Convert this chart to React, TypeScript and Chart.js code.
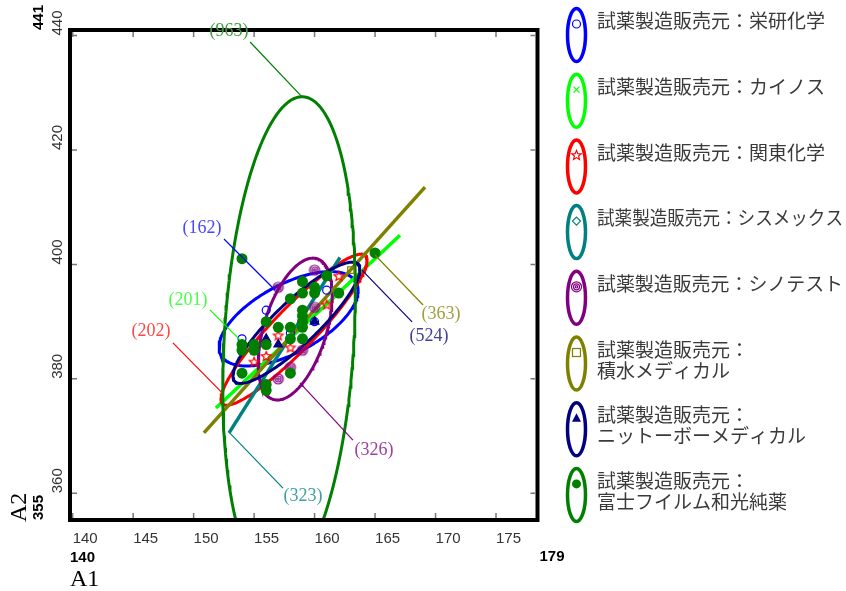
import React, { useEffect, useRef } from "react";
import { Chart, registerables } from "chart.js";
Chart.register(...registerables);

// ---- axis ranges & ticks ----
const X_MIN = 139.78;
const X_MAX = 178.43;
const Y_MIN = 355.33;
const Y_MAX = 440.97;
const xTicks = [140, 145, 150, 155, 160, 165, 170, 175];
const yTicks = [360, 380, 400, 420, 440];
const xRangeLabels = ["140", "179"];
const yRangeLabels = ["355", "441"];
const xTitle = "A1";
const yTitle = "A2";

// ---- series ----
const seriesNames = [
  ["試薬製造販売元：栄研化学"],
  ["試薬製造販売元：カイノス"],
  ["試薬製造販売元：関東化学"],
  ["試薬製造販売元：シスメックス"],
  ["試薬製造販売元：シノテスト"],
  ["試薬製造販売元：", "積水メディカル"],
  ["試薬製造販売元：", "ニットーボーメディカル"],
  ["試薬製造販売元：", "富士フイルム和光純薬"],
];
const seriesColors = ["#0000ff", "#00ff00", "#ff0000", "#008080", "#800080", "#808000", "#000080", "#008000"];
const labelColors = ["#4848ff", "#48ff48", "#ff4848", "#40a0a0", "#a040a0", "#a0a040", "#404099", "#40a040"];
const countLabels = ["(162)", "(201)", "(202)", "(323)", "(326)", "(363)", "(524)", "(963)"];

// scatter points per vendor
const eikenX = [154, 156, 161, 158, 160];
const eikenY = [387, 392, 395.5, 388, 390];
const kainosX = [156, 158, 159];
const kainosY = [386, 387, 389];
const kantoX = [162, 157, 156, 158, 155, 161];
const kantoY = [398, 387.6, 384, 385.5, 383, 393];
const sysmexX = [159, 157, 160];
const sysmexY = [391, 389, 395];
const shinoX = [160, 157, 160, 159, 158, 157];
const shinoY = [399, 396, 392.5, 385, 382, 380];
const sekisuiX = [163, 159];
const sekisuiY = [399, 390];
const nittoboX = [156, 157, 160];
const nittoboY = [387, 386, 390];
const wakoX = [154, 165, 159, 161, 160, 159, 160, 158, 162, 156, 159, 159, 159, 159, 157, 158, 158, 159, 156, 154, 154, 155, 155, 154, 158, 156, 156];
const wakoY = [401, 402, 397, 398, 396, 395, 395, 394, 395, 390, 392, 391, 390, 389, 389, 389, 387, 387, 386, 386, 385, 386, 385, 381, 381, 379, 378];

// ellipses: [meanX, meanY, halfExtentX, halfExtentY, correlation]
const eikenEllipse = [157.85, 390.5, 5.75, 8.25, 0.6];
const kantoEllipse = [158.3, 388.6, 6.04, 13.2, 0.92];
const shinoEllipse = [158.4, 388.7, 3.06, 12.4, 0.48];
const nittoboEllipse = [158.5, 389.8, 5.25, 10.6, 0.88];
const wakoEllipse = [157.89, 386.8, 5.48, 42.5, 0.196];
// degenerate ellipses (lines)
const kainosLineX = [151.85, 167.06];
const kainosLineY = [374.9, 405.1];
const sysmexLineX = [152.93, 162.1];
const sysmexLineY = [370.56, 401.2];
const sekisuiLineX = [150.85, 169.13];
const sekisuiLineY = [370.56, 413.5];

// count label annotations (data units)
const labelTextX = [150.69, 149.53, 146.47, 159.04, 164.91, 170.45, 169.46, 152.92];
const labelTextY = [406.36, 393.81, 388.4, 359.5, 367.6, 391.2, 387.5, 440.79];
const leaderFromX = [152.51, 151.35, 148.29, 157.39, 163.17, 168.97, 168.06, 154.67];
const leaderFromY = [404.44, 392.06, 386.3, 360.9, 369.3, 392.9, 389.95, 438.87];
const leaderToX = [156.73, 153.83, 152.34, 152.92, 158.79, 165.0, 163.92, 158.96];
const leaderToY = [395.52, 386.8, 377.6, 370.7, 379.3, 401.65, 399.0, 429.27];

function zip(xs: number[], ys: number[]) {
  return xs.map((x, i) => ({ x, y: ys[i] }));
}

function ellipsePts(e: number[]) {
  const [mx, my, hx, hy, r] = e;
  const th = Math.acos(r);
  const pts: { x: number; y: number }[] = [];
  const n = 240;
  for (let i = 0; i <= n; i++) {
    const t = (i / n) * Math.PI * 2;
    pts.push({ x: mx + hx * Math.cos(t), y: my + hy * Math.cos(t - th) });
  }
  return pts;
}

function drawStar(ctx: CanvasRenderingContext2D, x: number, y: number, R: number, r: number, color: string) {
  ctx.beginPath();
  for (let i = 0; i < 10; i++) {
    const a = -Math.PI / 2 + (i * Math.PI) / 5;
    const rad = i % 2 === 0 ? R : r;
    const px = x + rad * Math.cos(a);
    const py = y + rad * Math.sin(a);
    if (i === 0) ctx.moveTo(px, py);
    else ctx.lineTo(px, py);
  }
  ctx.closePath();
  ctx.strokeStyle = color;
  ctx.lineWidth = 1.2;
  ctx.stroke();
}

function drawBullseye(ctx: CanvasRenderingContext2D, x: number, y: number, color: string) {
  ctx.strokeStyle = color;
  ctx.lineWidth = 1.2;
  [5, 3, 1.2].forEach((rr) => {
    ctx.beginPath();
    ctx.arc(x, y, rr, 0, Math.PI * 2);
    ctx.stroke();
  });
}

function makeCanvas(draw: (c: CanvasRenderingContext2D) => void) {
  const c = document.createElement("canvas");
  c.width = 14;
  c.height = 14;
  const ctx = c.getContext("2d")!;
  draw(ctx);
  return c;
}

function drawMarker(ctx: CanvasRenderingContext2D, kind: number, x: number, y: number) {
  const col = seriesColors[kind];
  ctx.save();
  ctx.strokeStyle = col;
  ctx.fillStyle = col;
  ctx.lineWidth = 1.2;
  if (kind === 0) {
    ctx.beginPath();
    ctx.arc(x, y, 4, 0, Math.PI * 2);
    ctx.stroke();
  } else if (kind === 1) {
    ctx.beginPath();
    ctx.moveTo(x - 3, y - 3);
    ctx.lineTo(x + 3, y + 3);
    ctx.moveTo(x + 3, y - 3);
    ctx.lineTo(x - 3, y + 3);
    ctx.stroke();
  } else if (kind === 2) {
    drawStar(ctx, x, y, 5, 2.2, col);
  } else if (kind === 3) {
    ctx.beginPath();
    ctx.moveTo(x, y - 4);
    ctx.lineTo(x + 4, y);
    ctx.lineTo(x, y + 4);
    ctx.lineTo(x - 4, y);
    ctx.closePath();
    ctx.stroke();
  } else if (kind === 4) {
    drawBullseye(ctx, x, y, col);
  } else if (kind === 5) {
    ctx.strokeRect(x - 4, y - 4, 8, 8);
  } else if (kind === 6) {
    ctx.beginPath();
    ctx.moveTo(x, y - 5);
    ctx.lineTo(x + 4.5, y + 3.5);
    ctx.lineTo(x - 4.5, y + 3.5);
    ctx.closePath();
    ctx.fill();
  } else {
    ctx.beginPath();
    ctx.arc(x, y, 4.5, 0, Math.PI * 2);
    ctx.fill();
  }
  ctx.restore();
}

const overlayPlugin = {
  id: "overlay",
  afterDraw(chart: any) {
    const { ctx, chartArea: a } = chart;
    const xs = chart.scales.x;
    const ys = chart.scales.y;
    ctx.save();

    // frame
    ctx.strokeStyle = "#000";
    ctx.lineWidth = 4;
    ctx.strokeRect(a.left, a.top, a.right - a.left, a.bottom - a.top);

    // ticks (inside)
    ctx.strokeStyle = "#777";
    ctx.lineWidth = 1.5;
    xTicks.forEach((t) => {
      const px = xs.getPixelForValue(t);
      ctx.beginPath();
      ctx.moveTo(px, a.bottom - 2);
      ctx.lineTo(px, a.bottom - 7);
      ctx.moveTo(px, a.top + 2);
      ctx.lineTo(px, a.top + 7);
      ctx.stroke();
    });
    yTicks.forEach((t) => {
      const py = ys.getPixelForValue(t);
      ctx.beginPath();
      ctx.moveTo(a.left + 2, py);
      ctx.lineTo(a.left + 7, py);
      ctx.moveTo(a.right - 2, py);
      ctx.lineTo(a.right - 7, py);
      ctx.stroke();
    });

    // tick labels
    ctx.fillStyle = "#333";
    ctx.font = '15px "Liberation Sans", Arial, sans-serif';
    ctx.textAlign = "left";
    ctx.textBaseline = "middle";
    xTicks.forEach((t) => {
      ctx.fillText(String(t), xs.getPixelForValue(t), a.bottom + 19);
    });
    yTicks.forEach((t) => {
      const py = ys.getPixelForValue(t);
      ctx.save();
      ctx.translate(a.left - 12, py);
      ctx.rotate(-Math.PI / 2);
      ctx.fillText(String(t), 0, 0);
      ctx.restore();
    });

    // range labels (bold)
    ctx.fillStyle = "#000";
    ctx.font = 'bold 15px "Liberation Sans", Arial, sans-serif';
    ctx.fillText(xRangeLabels[0], a.left, a.bottom + 38);
    ctx.fillText(xRangeLabels[1], a.right + 2, a.bottom + 37);
    [a.bottom, a.top].forEach((py, i) => {
      ctx.save();
      ctx.translate(a.left - 31, py);
      ctx.rotate(-Math.PI / 2);
      ctx.fillText(yRangeLabels[i], 0, 0);
      ctx.restore();
    });

    // axis titles
    ctx.font = '24px "Liberation Serif", "Times New Roman", serif';
    ctx.fillText(xTitle, a.left, a.bottom + 60);
    ctx.save();
    ctx.translate(a.left - 50, a.bottom + 2);
    ctx.rotate(-Math.PI / 2);
    ctx.fillText(yTitle, 0, 0);
    ctx.restore();

    // count labels with leader lines
    ctx.font = '18px "Liberation Serif", "Times New Roman", serif';
    ctx.textAlign = "center";
    countLabels.forEach((txt, i) => {
      ctx.strokeStyle = seriesColors[i];
      ctx.lineWidth = 1.2;
      ctx.beginPath();
      ctx.moveTo(xs.getPixelForValue(leaderFromX[i]), ys.getPixelForValue(leaderFromY[i]));
      ctx.lineTo(xs.getPixelForValue(leaderToX[i]), ys.getPixelForValue(leaderToY[i]));
      ctx.stroke();
      ctx.fillStyle = labelColors[i];
      ctx.fillText(txt, xs.getPixelForValue(labelTextX[i]), ys.getPixelForValue(labelTextY[i]));
    });

    // legend
    const lx = 576.5;
    const ly0 = 35;
    const step = 65.7;
    const tx = 597;
    ctx.textAlign = "left";
    ctx.font = '19px "Noto Sans CJK JP", sans-serif';
    seriesNames.forEach((lines, i) => {
      const cy = ly0 + i * step;
      ctx.strokeStyle = seriesColors[i];
      ctx.lineWidth = 3.5;
      ctx.beginPath();
      ctx.ellipse(lx, cy, 9, 26.5, 0, 0, Math.PI * 2);
      ctx.stroke();
      drawMarker(ctx, i, lx, cy - 11);
      ctx.fillStyle = "#3a3a3a";
      lines.forEach((ln, j) => {
        ctx.fillText(ln, tx, cy - 14 + j * 21, chart.width - tx - 3);
      });
    });

    ctx.restore();
  },
};

export default function App() {
  const ref = useRef<HTMLCanvasElement>(null);
  useEffect(() => {
    document.body.style.margin = "0";
    const starImg = makeCanvas((c) => drawStar(c, 7, 7.5, 5, 2.2, seriesColors[2]));
    const bullImg = makeCanvas((c) => drawBullseye(c, 7, 7, seriesColors[4]));

    const lineDs = (data: any[], i: number, width = 3) => ({
      data,
      showLine: true,
      borderColor: seriesColors[i],
      backgroundColor: seriesColors[i],
      borderWidth: width,
      pointRadius: 0,
      fill: false,
      tension: 0,
      order: 30 - i,
    });

    const ptDs = (data: any[], i: number, extra: any) => ({
      data,
      showLine: false,
      borderColor: seriesColors[i],
      backgroundColor: "rgba(0,0,0,0)",
      borderWidth: 1.2,
      order: 15 - i,
      ...extra,
    });

    const datasets: any[] = [
      lineDs(ellipsePts(eikenEllipse), 0),
      lineDs(zip(kainosLineX, kainosLineY), 1, 3.5),
      lineDs(ellipsePts(kantoEllipse), 2),
      lineDs(zip(sysmexLineX, sysmexLineY), 3, 3.5),
      lineDs(ellipsePts(shinoEllipse), 4),
      lineDs(zip(sekisuiLineX, sekisuiLineY), 5, 3.5),
      lineDs(ellipsePts(nittoboEllipse), 6),
      lineDs(ellipsePts(wakoEllipse), 7),
      ptDs(zip(eikenX, eikenY), 0, { pointStyle: "circle", pointRadius: 4 }),
      ptDs(zip(kainosX, kainosY), 1, { pointStyle: "crossRot", pointRadius: 3.5 }),
      ptDs(zip(kantoX, kantoY), 2, { pointStyle: starImg, pointRadius: 5 }),
      ptDs(zip(sysmexX, sysmexY), 3, { pointStyle: "rectRot", pointRadius: 4 }),
      ptDs(zip(shinoX, shinoY), 4, { pointStyle: bullImg, pointRadius: 5 }),
      ptDs(zip(sekisuiX, sekisuiY), 5, { pointStyle: "rect", pointRadius: 4.5 }),
      ptDs(zip(nittoboX, nittoboY), 6, {
        pointStyle: "triangle",
        pointRadius: 5,
        backgroundColor: seriesColors[6],
      }),
      ptDs(zip(wakoX, wakoY), 7, {
        pointStyle: "circle",
        pointRadius: 5.5,
        borderWidth: 0,
        backgroundColor: seriesColors[7],
      }),
    ];

    const chart = new Chart(ref.current as HTMLCanvasElement, {
      type: "scatter",
      data: { datasets },
      options: {
        animation: false,
        responsive: false,
        events: [],
        layout: { padding: { left: 70, top: 30, right: 846 - 537.5, bottom: 591 - 520 } },
        scales: {
          x: { type: "linear", min: X_MIN, max: X_MAX, display: false },
          y: { type: "linear", min: Y_MIN, max: Y_MAX, display: false },
        },
        plugins: { legend: { display: false }, tooltip: { enabled: false } },
      },
      plugins: [overlayPlugin],
    } as any);
    return () => chart.destroy();
  }, []);
  return <canvas ref={ref} width={846} height={591} style={{ display: "block", width: 846, height: 591 }} />;
}
